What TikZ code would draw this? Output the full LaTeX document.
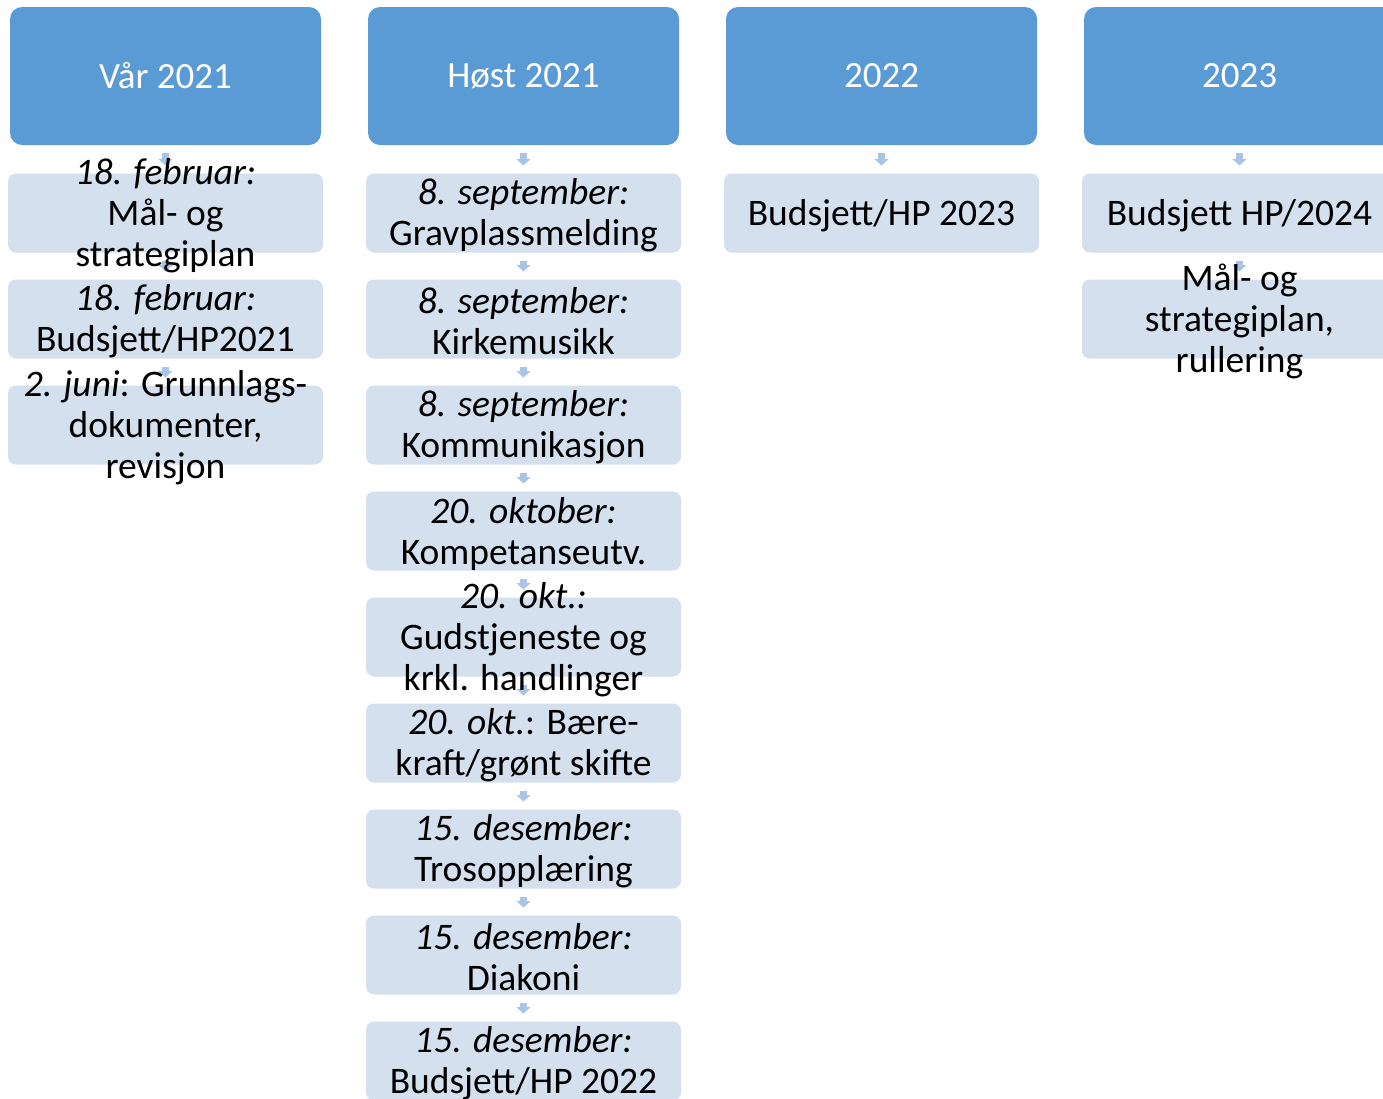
\documentclass[tikz,border=0pt]{standalone}
\usepackage{fontspec}
\setmainfont{Carlito}
\usetikzlibrary{positioning,arrows.meta}
\definecolor{headblue}{RGB}{91,155,213}
\definecolor{boxblue}{RGB}{213,224,239}
\definecolor{arrowblue}{RGB}{170,196,230}

\begin{document}
\begin{tikzpicture}[x=1pt,y=-1pt,node distance=27pt]
			\tikzstyle{every node}=[inner sep=0pt,outer sep=0pt]
			\tikzstyle{year}=[fill=headblue,rounded corners=12pt,minimum width=311pt,
			minimum height=138pt,text=white,font=\fontsize{37}{41}\selectfont]
			\tikzstyle{item}=[fill=boxblue,rounded corners=8pt,minimum width=315pt,
			minimum height=79pt]
			\tikzstyle{itemtext}=[align=center,yshift=-2.5pt,font=\fontsize{37.5}{41}\selectfont]
			\tikzstyle{flow}=[arrowblue,line width=7pt,shorten <=8pt,shorten >=8pt,
			-{Triangle[width=14pt,length=6.5pt]}]
			\useasboundingbox (0,0) rectangle (1383,1098);
			\node[year] (h1) at (165.5,76) {Vår 2021};
			\node[year] (h2) at (523.5,76) {Høst 2021};
			\node[year] (h3) at (881.5,76) {2022};
			\node[year] (h4) at (1239.5,76) {2023};
			\node[item,below=28.5pt of h1] (a1) {};
			\node[item,below=of a1] (a2) {};
			\node[item,below=of a2] (a3) {};
			\node[item,below=28.5pt of h2] (b1) {};
			\node[item,below=of b1] (b2) {};
			\node[item,below=of b2] (b3) {};
			\node[item,below=of b3] (b4) {};
			\node[item,below=of b4] (b5) {};
			\node[item,below=of b5] (b6) {};
			\node[item,below=of b6] (b7) {};
			\node[item,below=of b7] (b8) {};
			\node[item,below=of b8] (b9) {};
			\node[item,below=28.5pt of h3] (c1) {};
			\node[item,below=28.5pt of h4] (d1) {};
			\node[item,below=of d1] (d2) {};
			\draw[flow] (h1) -- (a1);
			\draw[flow] (a1) -- (a2);
			\draw[flow] (a2) -- (a3);
			\draw[flow] (h2) -- (b1);
			\draw[flow] (b1) -- (b2);
			\draw[flow] (b2) -- (b3);
			\draw[flow] (b3) -- (b4);
			\draw[flow] (b4) -- (b5);
			\draw[flow] (b5) -- (b6);
			\draw[flow] (b6) -- (b7);
			\draw[flow] (b7) -- (b8);
			\draw[flow] (b8) -- (b9);
			\draw[flow] (h3) -- (c1);
			\draw[flow] (h4) -- (d1);
			\draw[flow] (d1) -- (d2);
			\node[itemtext] (a1t) at (a1) {\textit{18. februar:}\\Mål- og\\strategiplan};
			\node[itemtext] (a2t) at (a2) {\textit{18. februar:}\\Budsjett/HP2021};
			\node[itemtext] (a3t) at (a3) {\textit{2. juni}: Grunnlags-\\dokumenter,\\revisjon};
			\node[itemtext] (b1t) at (b1) {\textit{8. september:}\\Gravplassmelding};
			\node[itemtext] (b2t) at (b2) {\textit{8. september:}\\Kirkemusikk};
			\node[itemtext] (b3t) at (b3) {\textit{8. september:}\\Kommunikasjon};
			\node[itemtext] (b4t) at (b4) {\textit{20. oktober:}\\Kompetanseutv.};
			\node[itemtext] (b5t) at (b5) {\textit{20. okt.:}\\Gudstjeneste og\\krkl. handlinger};
			\node[itemtext] (b6t) at (b6) {\textit{20. okt.}: Bære-\\kraft/grønt skifte};
			\node[itemtext] (b7t) at (b7) {\textit{15. desember:}\\Trosopplæring};
			\node[itemtext] (b8t) at (b8) {\textit{15. desember:}\\Diakoni};
			\node[itemtext] (b9t) at (b9) {\textit{15. desember:}\\Budsjett/HP 2022};
			\node[itemtext] (c1t) at (c1) {Budsjett/HP 2023};
			\node[itemtext] (d1t) at (d1) {Budsjett HP/2024};
			\node[itemtext] (d2t) at (d2) {Mål- og\\strategiplan,\\rullering};
			\end{tikzpicture}
\end{document}
